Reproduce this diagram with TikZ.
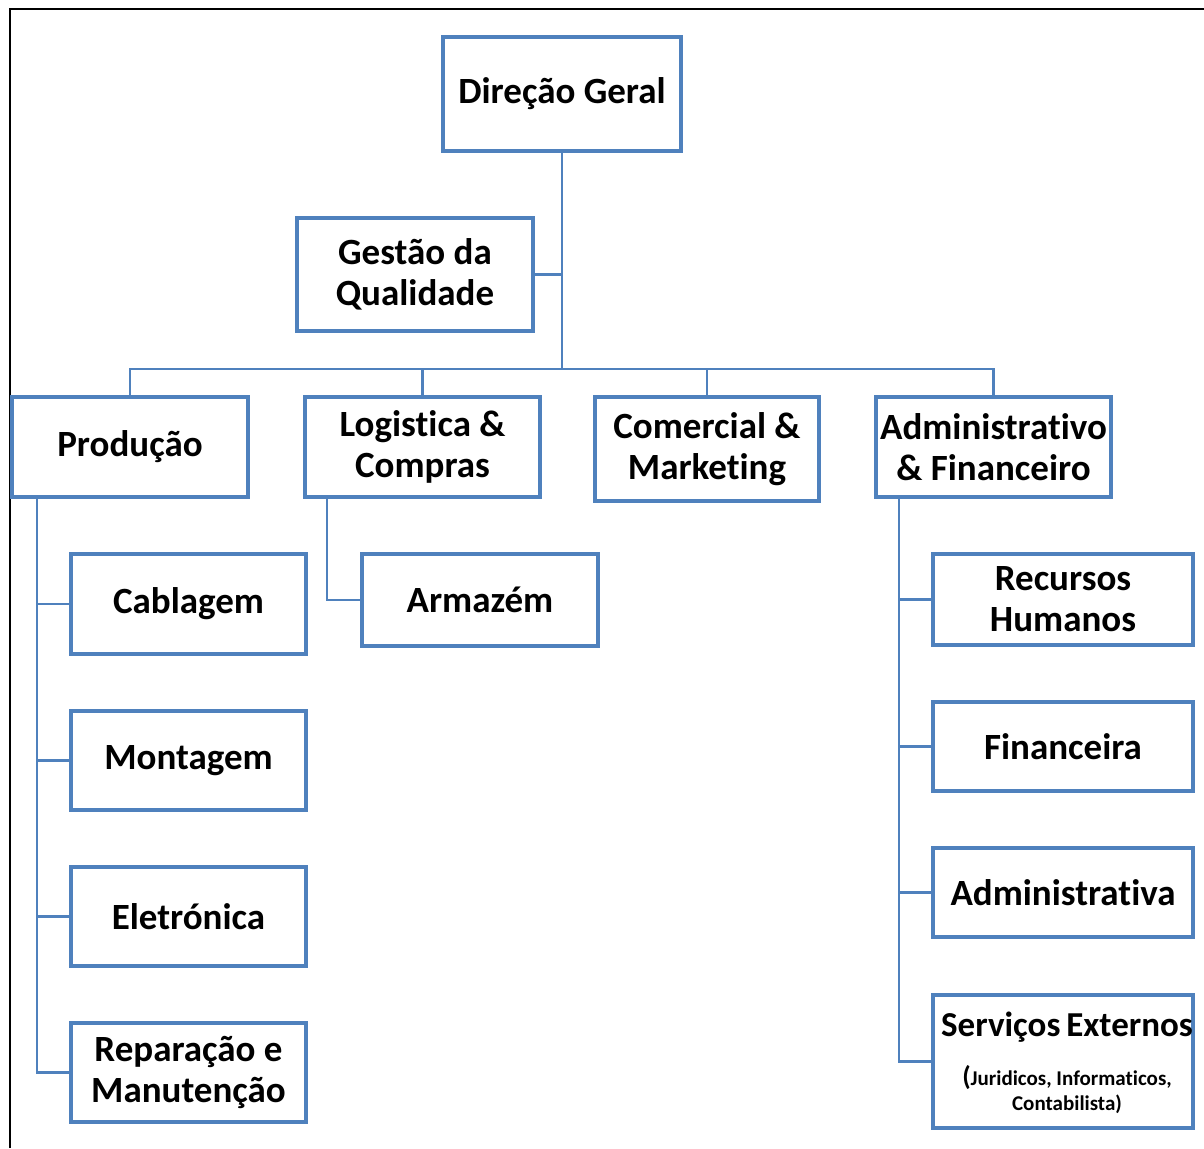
\documentclass[tikz,border=0pt]{standalone}
\usepackage{fontspec}
\setmainfont[Ligatures=NoCommon]{Carlito}
\usetikzlibrary{calc}
\definecolor{boxblue}{RGB}{79,129,189}
\tikzset{
  unit/.style={draw=boxblue, line width=3.5pt, rectangle, inner sep=0pt,
    align=center, font=\fontsize{37}{41}\selectfont\bfseries, text=black},
  link/.style={draw=boxblue, line width=2.6pt},
  frame/.style={draw=black, line width=2.8pt}
}
\begin{document}
\begin{tikzpicture}[x=1pt, y=-1pt]
  \useasboundingbox (0,0) rectangle (1204,1148);
  % outer frame (top and left edges)
  \draw[frame] (10,1148) -- (10,9) -- (1204,9);

  % top levels
  \node[unit, minimum width=238pt, minimum height=114pt] (dg) at (562,94) {Direção Geral};
  \node[unit, minimum width=236pt, minimum height=113pt] (gq) at (415,274.5) {Gestão da\\Qualidade};

  % departments
  \node[unit, minimum width=236pt, minimum height=100pt] (prod) at (130,447) {Produção};
  \node[unit, minimum width=235pt, minimum height=100pt] (log) at (422.5,447) {Logistica \&\\Compras};
  \node[unit, minimum width=224pt, minimum height=104pt] (com) at (707,449) {Comercial \&\\Marketing};
  \node[unit, minimum width=235pt, minimum height=100pt] (adm) at (993.5,447) {Administrativo\\\& Financeiro};

  % production units
  \node[unit, minimum width=235pt, minimum height=100pt] (cab) at (188.5,604) {Cablagem};
  \node[unit, minimum width=235pt, minimum height=99pt] (mon) at (188.5,760.5) {Montagem};
  \node[unit, minimum width=235pt, minimum height=99pt] (ele) at (188.5,916.5) {Eletrónica};
  \node[unit, minimum width=235pt, minimum height=99pt] (rep) at (188.5,1072.5) {Reparação e\\Manutenção};

  % logistics unit
  \node[unit, minimum width=236pt, minimum height=92pt] (arm) at (480,600) {Armazém};

  % administrative units
  \node[unit, minimum width=260pt, minimum height=91pt] (rh) at (1063,599.5) {Recursos\\Humanos};
  \node[unit, minimum width=260pt, minimum height=89pt] (fin) at (1063,746.5) {Financeira};
  \node[unit, minimum width=260pt, minimum height=89pt] (adv) at (1063,892.5) {Administrativa};
  \node[unit, minimum width=260pt, minimum height=133pt] (se) at (1063,1061.5) {};
  \node[font=\fontsize{35}{41}\selectfont\bfseries, inner sep=0pt] (setitle) at (1067,1027) {Serviços\hspace{-2pt} Externos};
  \node[font=\fontsize{21}{25}\selectfont\bfseries, align=center, inner sep=0pt] (senote) at (1067,1090)
    {{\fontsize{27}{25}\selectfont(}Juridicos, Informaticos,\\Contabilista)};

  % bus coordinates
  \coordinate (bus) at (562,369);
  \coordinate (pv) at (37,497);
  \coordinate (lv) at (327,497);
  \coordinate (av) at (899,497);

  % trunk and bus
  \draw[link] (dg.south) -- (dg.south |- bus);
  \draw[link] (gq.east) -- (gq.east -| bus);
  \draw[link] (prod.north) |- (bus) -| (adm.north);
  \draw[link] (log.north) -- (log.north |- bus);
  \draw[link] (com.north) -- (com.north |- bus);

  % production branch
  \draw[link] (pv) |- (rep.west);
  \draw[link] (pv |- cab.west) -- (cab.west);
  \draw[link] (pv |- mon.west) -- (mon.west);
  \draw[link] (pv |- ele.west) -- (ele.west);

  % logistics branch
  \draw[link] (lv) |- (arm.west);

  % administrative branch
  \draw[link] (av) |- (se.west);
  \draw[link] (av |- rh.west) -- (rh.west);
  \draw[link] (av |- fin.west) -- (fin.west);
  \draw[link] (av |- adv.west) -- (adv.west);
\end{tikzpicture}
\end{document}
